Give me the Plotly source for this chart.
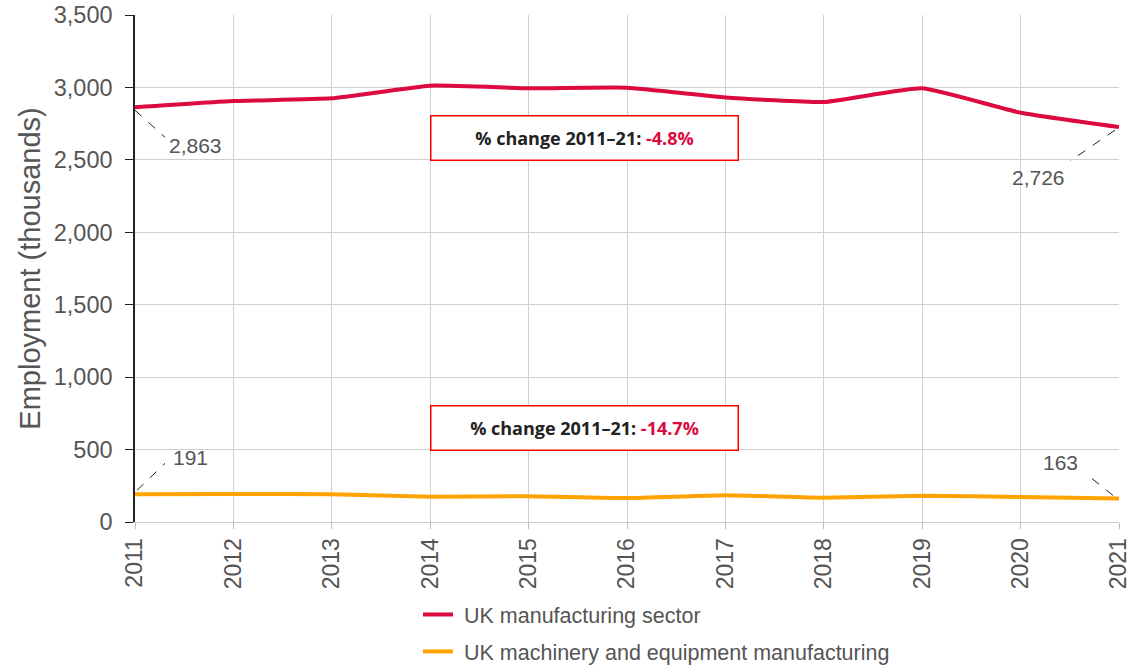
import plotly.graph_objects as go

years = [2011, 2012, 2013, 2014, 2015, 2016, 2017, 2018, 2019, 2020, 2021]
manufacturing = [2863, 2906, 2925, 3012, 2994, 2998, 2931, 2899, 2994, 2825, 2726]
machinery = [191, 193, 191, 175, 178, 165, 185, 168, 182, 173, 163]
series_names = ["UK manufacturing sector", "UK machinery and equipment manufacturing"]
pct_changes = ["-4.8%", "-14.7%"]
y_ticks = [0, 500, 1000, 1500, 2000, 2500, 3000, 3500]

RED = "#dc0a3f"
ORANGE = "#ffa300"
GREY = "#555555"
FONT = "Liberation Sans, Arial, sans-serif"

fig = go.Figure()
fig.add_trace(go.Scatter(x=years, y=manufacturing, mode="lines", name="\u00a0" + series_names[0], legendgroup="a",
                         line=dict(color=RED, width=4, shape="spline", smoothing=0.4)))
fig.add_trace(go.Scatter(x=years, y=machinery, mode="lines", name="\u00a0" + series_names[1], legendgroup="b",
                         line=dict(color=ORANGE, width=4, shape="spline", smoothing=0.4)))

annotations = []
shapes = []

def endpoint_label(x, y, text, dx0, dy0, dx1, dy1, tx, ty):
    shapes.append(dict(type="line", xref="x", yref="y", xsizemode="pixel", ysizemode="pixel",
                       xanchor=x, yanchor=y, x0=dx0, y0=dy0, x1=dx1, y1=dy1,
                       line=dict(color="#222222", width=1, dash="dash")))
    annotations.append(dict(x=x, y=y, xref="x", yref="y", text=text, showarrow=False,
                            xshift=tx, yshift=ty, font=dict(size=21, color=GREY, family=FONT)))

endpoint_label(years[0], manufacturing[0], f"{manufacturing[0]:,}", 0, -3, 30, -30, 60, -38)
endpoint_label(years[-1], manufacturing[-1], f"{manufacturing[-1]:,}", -4, -3, -49, -34, -81, -50)
endpoint_label(years[0], machinery[0], f"{machinery[0]:,}", 2, 4, 30, 31, 55, 37)
endpoint_label(years[-1], machinery[-1], f"{machinery[-1]:,}", -6, 3, -31, 23, -59, 36)

for yv, pc in zip([2650, 652], pct_changes):
    annotations.append(dict(x=2015.57, y=yv, xref="x", yref="y", showarrow=False,
                            text=f"<b>% change 2011–21: <span style='color:{RED}'>{pc}</span></b>",
                            font=dict(size=18, color="#222222", family="Open Sans, sans-serif"),
                            bgcolor="white", bordercolor="#ff0000", borderwidth=1.5,
                            width=306, height=43, borderpad=0))

fig.update_layout(
    width=1127, height=666,
    margin=dict(l=135, r=8, t=15, b=144, autoexpand=False),
    paper_bgcolor="white", plot_bgcolor="white",
    font=dict(family=FONT, color=GREY),
    showlegend=True,
    legend=dict(orientation="v", x=0.2876, xanchor="left", y=-0.142, yanchor="top",
                font=dict(size=21.5, color=GREY), tracegroupgap=6),
    annotations=annotations,
    shapes=shapes,
)
fig.update_xaxes(range=[2011, 2021], tickvals=years, ticktext=[str(y) for y in years],
                 tickangle=-90, tickfont=dict(size=23, color=GREY), automargin=False,
                 ticklabeloverflow="allow",
                 showgrid=True, gridcolor="#d0d0d0", gridwidth=1,
                 ticks="outside", ticklen=6, tickcolor="#bbbbbb",
                 showline=True, linecolor="#cccccc", zeroline=False)
fig.update_yaxes(range=[0, 3500], tickvals=y_ticks, tickformat=",", automargin=False,
                 tickfont=dict(size=23.5, color=GREY), ticklabelstandoff=8,
                 title=dict(text="Employment (thousands)", font=dict(size=29, color=GREY), standoff=5),
                 showgrid=True, gridcolor="#d0d0d0", gridwidth=1,
                 ticks="outside", ticklen=8, tickcolor="#222222",
                 showline=True, linecolor="#222222", linewidth=1.5, zeroline=False)

fig.write_html("out.html", config={"displayModeBar": False},
               post_script="document.body.style.margin='0';document.body.style.overflow='hidden';")
